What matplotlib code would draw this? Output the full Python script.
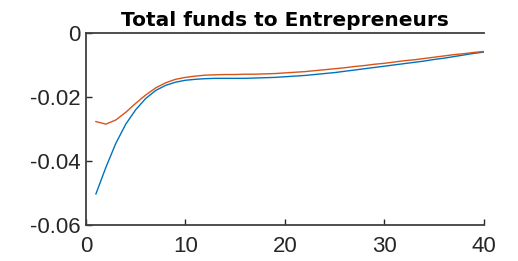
import numpy as np
import matplotlib.pyplot as plt

plt.rcParams['font.family'] = ['Liberation Sans', 'DejaVu Sans']

periods = np.arange(1, 41)
funds_a = [-0.0503, -0.0420, -0.0345, -0.0285, -0.0240, -0.0205, -0.0180, -0.0164, -0.0154, -0.0148,
           -0.0145, -0.0143, -0.0142, -0.0142, -0.0142, -0.0142, -0.0141, -0.0140, -0.0139, -0.0137,
           -0.0135, -0.0133, -0.0130, -0.0127, -0.0124, -0.0120, -0.0116, -0.0112, -0.0108, -0.0104,
           -0.0100, -0.0096, -0.0092, -0.0088, -0.0083, -0.0079, -0.0074, -0.0069, -0.0064, -0.0060]
funds_b = [-0.0277, -0.0285, -0.0272, -0.0248, -0.0220, -0.0194, -0.0172, -0.0156, -0.0145, -0.0139,
           -0.0135, -0.0132, -0.0131, -0.0130, -0.0130, -0.0129, -0.0129, -0.0128, -0.0127, -0.0125,
           -0.0123, -0.0121, -0.0118, -0.0115, -0.0112, -0.0109, -0.0105, -0.0102, -0.0098, -0.0095,
           -0.0091, -0.0087, -0.0084, -0.0080, -0.0076, -0.0072, -0.0068, -0.0065, -0.0061, -0.0058]
xticks = [0, 10, 20, 30, 40]
yticks = [-0.06, -0.04, -0.02, 0]
yticklabels = ['-0.06', '-0.04', '-0.02', '0']

fig = plt.figure(figsize=(5.18, 2.61), dpi=100)
ax = fig.add_axes([0.166, 0.138, 0.768, 0.736])
ax.plot(periods, funds_a, color='#0072BD', lw=1.0)
ax.plot(periods, funds_b, color='#D95319', lw=1.0)
ax.set_xlim(0, 40)
ax.set_ylim(-0.06, 0)
ax.set_xticks(xticks)
ax.set_yticks(yticks)
ax.set_yticklabels(yticklabels)
ax.tick_params(direction='in', length=4, width=1, labelsize=16, colors='#262626')
ax.tick_params(axis='x', pad=8)
ax.tick_params(axis='y', pad=4)
for s in ['left', 'bottom', 'top']:
    ax.spines[s].set_color('#404040')
    ax.spines[s].set_linewidth(1.3)
ax.spines['right'].set_visible(False)
ax.set_title('Total funds to Entrepreneurs', fontsize=14.5, fontweight='bold',
             family='DejaVu Sans', pad=5)
fig.savefig('out.png', dpi=100)
